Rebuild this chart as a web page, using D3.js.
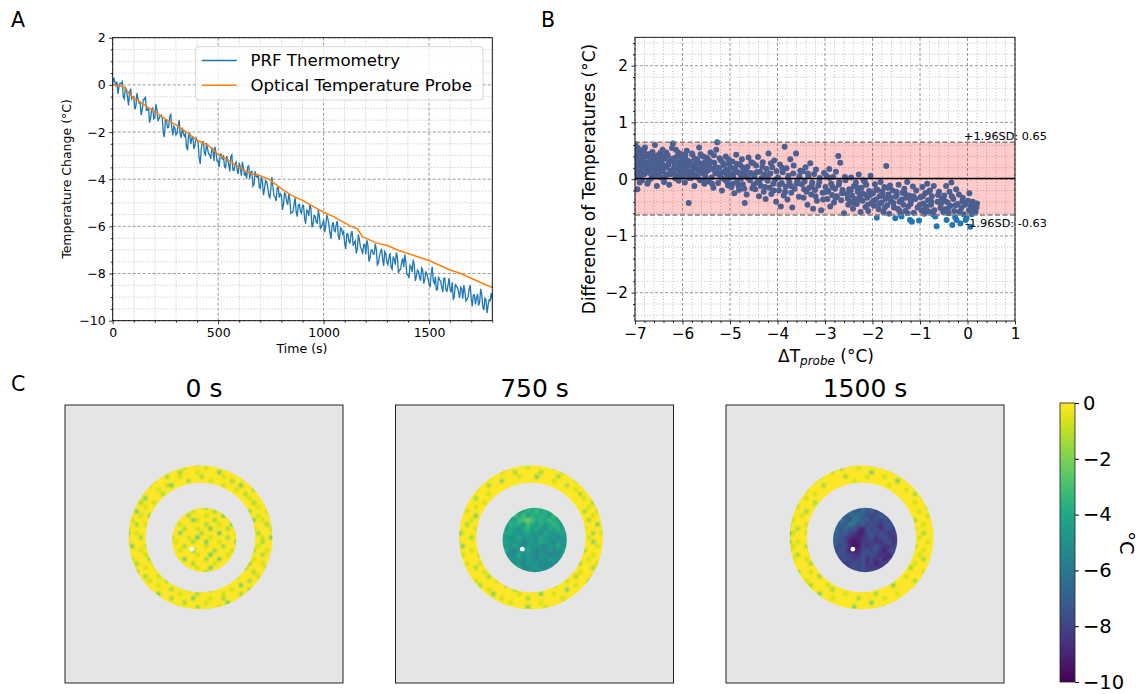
<!DOCTYPE html>
<html><head><meta charset="utf-8">
<script src="https://cdn.jsdelivr.net/npm/d3@7"></script>
<style>
body{margin:0;background:#fff;}
svg text{font-family:"DejaVu Sans",sans-serif;fill:#000;}
.gmin{stroke:#b3b3b3;stroke-width:0.7;stroke-dasharray:1.2 1.8;}
.gmaj{stroke:#808080;stroke-width:0.8;stroke-dasharray:3 2;}
</style></head><body>
<svg id="fig" width="1143" height="694"></svg>
<script>
// ---------------- DATA ----------------
// Panel A: PRF thermometry, one sample every 5 s from 0 to 1800 s
const prfInterval = 5;
const prfValues = [
 0.05,0.30,0.14,-0.02,0.13,-0.38,-0.08,0.07,0.06,0.14,-0.50,-0.59,-0.11,-0.20,-0.52,-0.87,-0.33,-0.16,-0.59,-0.50,
 -0.50,-1.04,-0.91,-0.35,-0.58,-0.76,-0.74,-1.28,-1.06,-0.62,-0.62,-0.50,-1.08,-1.07,-0.95,-1.60,-1.41,-1.02,-0.98,-1.44,
 -1.39,-0.82,-1.06,-1.54,-1.42,-1.33,-1.28,-1.39,-2.05,-2.21,-1.46,-1.49,-1.82,-1.81,-1.39,-1.22,-1.80,-2.13,-1.76,-1.84,
 -2.12,-2.05,-1.74,-1.48,-2.10,-2.24,-1.81,-2.05,-2.17,-2.08,-2.64,-2.77,-2.10,-2.06,-2.51,-2.27,-2.17,-2.72,-2.54,-2.25,
 -2.35,-2.43,-3.10,-3.35,-2.71,-2.42,-2.41,-2.91,-2.97,-2.46,-2.72,-2.93,-2.97,-3.14,-2.68,-2.70,-3.23,-2.63,-2.88,-3.24,
 -3.23,-3.48,-2.93,-2.94,-3.17,-2.98,-3.47,-3.52,-3.02,-3.15,-3.37,-3.67,-3.06,-2.97,-3.61,-3.63,-3.36,-3.27,-3.60,-3.78,
 -3.30,-3.50,-3.85,-3.26,-3.51,-3.85,-3.71,-3.98,-3.47,-3.43,-3.97,-3.69,-3.67,-4.30,-4.23,-3.66,-3.88,-3.92,-3.78,-4.35,
 -4.39,-3.88,-4.09,-4.68,-4.40,-4.06,-4.10,-4.34,-4.66,-4.82,-4.38,-3.91,-4.34,-4.71,-4.75,-4.93,-4.37,-4.34,-4.78,-4.62,
 -4.69,-5.30,-5.06,-4.56,-4.67,-4.95,-5.08,-4.61,-4.90,-5.45,-5.41,-5.37,-5.07,-4.79,-5.39,-5.59,-5.10,-5.07,-5.36,-5.45,
 -5.11,-5.12,-5.66,-5.89,-5.31,-5.35,-5.56,-5.06,-5.26,-6.04,-5.91,-5.54,-5.56,-5.82,-5.86,-5.31,-5.57,-6.08,-6.02,-5.90,
 -5.72,-6.25,-6.02,-5.52,-5.67,-5.91,-6.27,-6.53,-5.97,-5.82,-6.17,-6.22,-5.92,-5.77,-6.42,-6.57,-6.07,-6.10,-6.32,-6.22,
 -6.72,-6.96,-6.32,-6.32,-6.62,-6.73,-6.32,-6.20,-6.82,-6.70,-6.62,-7.15,-6.97,-6.34,-6.57,-6.90,-6.98,-7.18,-6.78,-6.76,
 -7.18,-6.59,-6.77,-7.49,-7.36,-7.00,-6.99,-7.17,-7.18,-6.74,-6.97,-7.64,-7.56,-7.26,-7.09,-6.95,-7.38,-7.68,-7.07,-7.16,
 -7.51,-7.62,-7.35,-7.13,-7.74,-7.82,-7.28,-7.40,-7.62,-7.10,-7.30,-7.97,-7.84,-7.83,-7.53,-7.36,-7.73,-7.19,-7.52,-8.03,
 -8.06,-8.19,-7.65,-7.71,-7.94,-7.41,-7.63,-8.31,-8.12,-7.85,-7.91,-8.17,-8.30,-7.76,-7.84,-8.43,-8.24,-7.91,-8.03,-8.22,
 -8.42,-8.58,-8.01,-7.71,-8.30,-8.42,-8.14,-8.70,-8.68,-8.13,-8.27,-8.31,-8.56,-8.79,-8.20,-8.19,-8.70,-8.75,-8.49,-8.19,
 -8.68,-8.80,-8.37,-9.11,-8.96,-8.44,-8.55,-8.59,-8.79,-9.03,-8.58,-8.64,-9.07,-8.49,-8.76,-9.17,-9.11,-8.99,-8.66,-8.49,
 -9.06,-9.39,-8.91,-8.90,-9.31,-9.05,-8.86,-9.36,-9.21,-8.65,-8.90,-9.41,-9.55,-9.05,-9.10,-9.68,-9.35,-9.11,-9.15,-8.83,
 -9.10];
// Panel A: optical temperature probe
const probeTimes  = [0,40,60,80,100,150,200,250,300,350,400,450,500,550,600,650,700,740,800,850,900,950,1000,1050,1100,1130,1160,1185,1200,1250,1300,1350,1400,1450,1500,1550,1600,1650,1700,1750,1800];
const probeValues = [0,-0.05,-0.15,-0.40,-0.55,-0.85,-1.15,-1.45,-1.70,-2.00,-2.35,-2.55,-2.95,-3.20,-3.50,-3.75,-3.85,-4.00,-4.40,-4.70,-4.90,-5.15,-5.40,-5.60,-5.85,-6.00,-6.10,-6.45,-6.50,-6.70,-6.80,-7.00,-7.15,-7.30,-7.45,-7.65,-7.85,-8.00,-8.20,-8.40,-8.60];
const seriesNames = ["PRF Thermometry","Optical Temperature Probe"];
const xTicksA = [0,500,1000,1500];
const yTicksA = [-10,-8,-6,-4,-2,0,2];

// Panel B: Bland-Altman points [ΔT_probe, difference]
const baPoints = [
 [-6.99,0.62],[-6.98,0.31],[-6.97,0.12],[-6.96,0.45],[-6.95,-0.18],[-6.94,0.22],[-6.93,0.38],[-6.92,0.05],[-6.90,0.27],[-6.89,0.51],
 [-6.88,0.16],[-6.86,0.34],[-6.85,-0.02],[-6.83,0.41],[-6.82,0.24],[-6.80,0.09],[-6.79,0.56],[-6.77,0.30],[-6.75,0.18],[-6.74,-0.08],
 [-6.72,0.44],[-6.70,0.26],[-6.69,0.11],[-6.67,0.35],[-6.65,0.02],[-6.63,0.48],[-6.62,0.20],[-6.60,0.29],[-6.58,0.60],[-6.57,0.14],
 [-6.55,0.37],[-6.54,-0.12],[-6.53,0.23],[-6.52,0.42],[-6.51,0.07],[-6.50,0.31],
 [-6.49,0.19],[-6.47,0.46],[-6.46,0.03],[-6.44,0.28],[-6.42,0.52],[-6.41,0.13],[-6.39,-0.05],[-6.37,0.36],[-6.35,0.21],[-6.33,0.08],
 [-6.31,0.42],[-6.30,0.25],[-6.28,-0.10],[-6.26,0.15],[-6.24,0.33],[-6.22,0.55],[-6.20,0.63],[-6.19,0.10],[-6.17,0.27],[-6.15,0.01],
 [-6.13,0.39],[-6.11,0.18],[-6.09,0.47],[-6.08,-0.03],[-6.06,0.22],[-6.05,0.30],[-6.03,0.12],[-6.02,0.44],[-6.01,0.05],[-6.00,0.26],
 [-5.98,0.17],[-5.96,0.38],[-5.95,-0.06],[-5.93,0.24],[-5.91,0.50],[-5.89,0.09],[-5.87,-0.42],[-5.85,0.31],[-5.83,0.14],[-5.81,0.02],
 [-5.79,0.43],[-5.77,0.20],[-5.75,-0.12],[-5.73,0.28],[-5.71,0.07],[-5.69,0.35],[-5.67,0.16],[-5.65,0.56],[-5.63,-0.02],[-5.61,0.23],
 [-5.59,0.11],[-5.57,0.40],[-5.56,0.19],[-5.54,-0.08],[-5.53,0.30],[-5.52,0.05],[-5.51,0.26],
 [-5.49,0.14],[-5.47,0.36],[-5.45,-0.04],[-5.43,0.22],[-5.41,0.47],[-5.39,0.03],[-5.37,0.18],[-5.35,-0.15],[-5.33,0.29],[-5.31,0.10],
 [-5.29,0.52],[-5.27,0.65],[-5.25,-0.07],[-5.23,0.20],[-5.21,0.06],[-5.19,0.33],[-5.17,-0.20],[-5.15,0.12],[-5.13,0.25],[-5.11,-0.01],
 [-5.09,0.40],[-5.07,0.08],[-5.05,0.17],[-5.04,-0.11],[-5.02,0.27],[-5.01,0.02],
 [-4.99,0.09],[-4.97,-0.14],[-4.95,0.31],[-4.93,0.04],[-4.91,-0.25],[-4.89,0.19],[-4.87,0.43],[-4.85,-0.05],[-4.83,0.12],[-4.81,-0.19],
 [-4.79,0.26],[-4.77,0.01],[-4.75,0.35],[-4.73,-0.09],[-4.71,0.15],[-4.69,-0.42],[-4.67,0.07],[-4.65,-0.27],[-4.63,0.22],[-4.61,0.38],
 [-4.58,-0.02],[-4.56,0.11],[-4.53,-0.16],[-4.51,0.28],
 [-4.49,0.05],[-4.47,-0.18],[-4.45,0.24],[-4.43,-0.06],[-4.41,0.39],[-4.39,-0.30],[-4.37,0.13],[-4.35,-0.12],[-4.33,0.02],[-4.31,0.30],
 [-4.29,-0.22],[-4.27,0.08],[-4.25,-0.35],[-4.23,0.18],[-4.21,-0.03],[-4.19,0.45],[-4.17,-0.15],[-4.15,0.10],[-4.13,-0.26],[-4.11,0.21],
 [-4.09,-0.08],[-4.07,0.33],[-4.05,-0.01],[-4.03,-0.40],
 [-3.99,0.03],[-3.97,-0.20],[-3.95,0.26],[-3.93,-0.48],[-3.91,-0.07],[-3.89,0.12],[-3.87,-0.29],[-3.85,0.57],[-3.83,-0.13],[-3.81,0.19],
 [-3.79,-0.36],[-3.77,0.06],[-3.75,-0.05],[-3.73,0.35],[-3.71,-0.24],[-3.69,-0.50],[-3.67,0.10],[-3.64,-0.17],[-3.61,0.45],[-3.58,-0.02],
 [-3.55,-0.31],[-3.52,0.15],
 [-3.49,-0.09],[-3.47,0.14],[-3.45,-0.33],[-3.43,-0.04],[-3.41,0.21],[-3.39,-0.22],[-3.37,-0.45],[-3.35,0.05],[-3.33,-0.15],[-3.31,0.28],
 [-3.29,-0.27],[-3.27,-0.06],[-3.25,-0.52],[-3.23,0.09],[-3.21,-0.19],[-3.19,0.17],[-3.17,-0.38],[-3.14,-0.11],[-3.11,0.02],[-3.08,-0.55],
 [-3.05,-0.24],[-3.02,0.11],
 [-2.99,-0.14],[-2.97,0.06],[-2.95,-0.35],[-2.93,-0.21],[-2.91,0.18],[-2.89,-0.48],[-2.87,-0.08],[-2.85,-0.28],[-2.83,0.04],[-2.81,-0.41],
 [-2.79,-0.17],[-2.77,0.13],[-2.75,-0.30],[-2.72,0.41],[-2.70,-0.05],[-2.68,0.29],[-2.66,-0.37],[-2.63,-0.19],[-2.60,-0.60],[-2.57,-0.02],
 [-2.54,-0.26],[-2.51,-0.45],
 [-2.49,-0.18],[-2.47,-0.40],[-2.45,0.03],[-2.43,-0.29],[-2.41,-0.52],[-2.39,-0.12],[-2.37,-0.35],[-2.35,-0.06],[-2.33,-0.44],[-2.31,-0.22],
 [-2.29,0.08],[-2.27,-0.31],[-2.25,-0.58],[-2.23,-0.15],[-2.21,-0.38],[-2.19,-0.02],[-2.17,-0.27],[-2.15,-0.49],[-2.13,-0.10],[-2.11,-0.33],
 [-2.09,-0.56],[-2.07,-0.21],[-2.04,0.06],[-2.02,-0.42],
 [-1.99,-0.25],[-1.97,-0.47],[-1.95,-0.09],[-1.93,-0.36],[-1.91,-0.68],[-1.89,-0.19],[-1.87,-0.53],[-1.85,-0.30],[-1.83,-0.05],[-1.81,-0.41],
 [-1.79,-0.22],[-1.77,-0.58],[-1.75,-0.14],[-1.73,-0.35],[-1.71,0.23],[-1.69,-0.46],[-1.67,-0.27],[-1.65,-0.61],[-1.63,-0.11],[-1.61,-0.39],
 [-1.58,-0.20],[-1.55,-0.50],[-1.52,-0.69],[-1.51,-0.31],
 [-1.49,-0.28],[-1.47,-0.52],[-1.45,-0.10],[-1.43,-0.40],[-1.41,-0.62],[-1.39,-0.66],[-1.37,-0.24],[-1.35,-0.45],[-1.33,-0.17],[-1.31,-0.56],
 [-1.29,-0.33],[-1.27,-0.05],[-1.25,-0.48],[-1.23,-0.29],[-1.21,-0.72],[-1.19,-0.38],[-1.17,-0.75],[-1.15,-0.13],[-1.13,-0.59],[-1.10,-0.35],
 [-1.05,-0.50],[-1.02,-0.73],
 [-0.99,-0.32],[-0.97,-0.55],[-0.95,-0.14],[-0.93,-0.43],[-0.91,-0.61],[-0.89,-0.25],[-0.87,-0.48],[-0.85,-0.08],[-0.83,-0.37],[-0.81,-0.57],
 [-0.79,-0.20],[-0.77,-0.45],[-0.75,-0.30],[-0.73,-0.62],[-0.71,-0.12],[-0.68,-0.66],[-0.65,-0.83],[-0.63,-0.40],[-0.60,-0.22],[-0.57,-0.51],
 [-0.54,-0.34],[-0.51,-0.58],
 [-0.49,-0.29],[-0.47,-0.53],[-0.45,-0.12],[-0.44,-0.72],[-0.42,-0.41],[-0.40,-0.60],[-0.38,-0.22],[-0.36,-0.47],[-0.34,-0.06],[-0.32,-0.81],
 [-0.30,-0.35],[-0.28,-0.56],[-0.26,-0.67],[-0.24,-0.18],[-0.23,-0.72],[-0.21,-0.44],[-0.18,-0.27],[-0.15,-0.78],[-0.13,-0.51],[-0.10,-0.33],
 [-0.08,-0.62],[-0.05,-0.45],[-0.04,-0.72],[-0.02,-0.69],
 [0.01,-0.38],[0.03,-0.55],[0.04,-0.25],[0.06,-0.84],[0.07,-0.47],[0.09,-0.62],[0.11,-0.40],[0.13,-0.53],[0.15,-0.45],[0.17,-0.58],[0.19,-0.50],[0.20,-0.43],
 [-6.99,0.18],[-6.98,0.47],[-6.97,0.28],[-6.96,0.03],[-6.95,0.36],[-6.94,0.55],[-6.93,0.14],[-6.91,0.25],[-6.90,-0.06],[-6.88,0.43],
 [-6.87,0.21],[-6.85,0.33],[-6.84,0.08],[-6.81,0.50],[-6.78,0.19],[-6.76,0.40],[-6.73,0.27],[-6.71,-0.03],[-6.68,0.15],[-6.66,0.45],
 [-6.64,0.32],[-6.61,0.06],[-6.59,0.39],[-6.56,0.24],[-6.48,0.35],[-6.45,0.15],[-6.43,0.41],[-6.40,0.24],[-6.36,0.04],[-6.34,0.47],
 [-6.29,0.31],[-6.25,0.09],[-6.21,0.36],[-6.18,0.20],[-6.14,0.52],[-6.12,0.07],[-6.10,0.30],[-6.07,0.41],[-6.04,0.16],[-6.01,0.34],
 [-5.99,0.28],[-5.97,0.07],[-5.94,0.42],[-5.92,0.18],[-5.90,0.33],[-5.86,0.02],[-5.84,0.25],[-5.80,0.45],[-5.78,0.10],[-5.74,0.36],
 [-5.72,0.19],[-5.68,0.03],[-5.66,0.29],[-5.62,0.44],[-5.60,0.13],[-5.58,0.27],[-5.55,-0.03],[-5.50,0.38],[-5.46,0.16],[-5.42,0.31],
 [-5.38,-0.08],[-5.34,0.42],[-5.30,0.21],[-5.26,0.11],[-5.22,0.37],[-5.18,0.02],[-5.14,0.28],[-5.10,0.15],[-5.06,-0.05],[-5.03,0.35],
 [-4.98,0.20],[-4.94,-0.08],[-4.90,0.12],[-4.86,0.27],[-4.82,-0.12],[-4.78,0.08],[-4.74,0.21],[-4.70,-0.17],[-4.66,0.16],[-4.62,0.02],
 [-4.55,0.30],[-4.50,-0.10],[-4.44,0.12],[-4.38,-0.05],[-4.32,0.22],[-4.26,-0.14],[-4.20,0.06],[-4.14,0.28],[-4.08,-0.20],[-4.02,0.14],
 [-3.96,-0.10],[-3.90,0.20],[-3.84,-0.22],[-3.78,0.02],[-3.72,-0.12],[-3.66,0.24],[-3.60,-0.08],[-3.54,0.05],[-3.44,-0.18],[-3.36,0.10],
 [-3.28,-0.12],[-3.20,-0.30],[-3.12,-0.05],[-3.04,-0.36],[-2.96,-0.22],[-2.90,0.02],[-2.84,-0.14],[-2.78,-0.33],[-2.71,-0.10],[-2.64,-0.25],
 [-2.58,0.04],[-2.52,-0.34],[-2.46,-0.20],[-2.40,-0.42],[-2.34,-0.14],[-2.28,-0.36],[-2.22,-0.25],[-2.16,-0.05],[-2.10,-0.45],[-2.05,-0.28],
 [-1.98,-0.38],[-1.92,-0.18],[-1.86,-0.44],[-1.80,-0.28],[-1.74,-0.50],[-1.68,-0.15],[-1.62,-0.33],[-1.56,-0.42],[-1.50,-0.22],[-1.44,-0.55],
 [-1.38,-0.36],[-1.32,-0.25],[-1.26,-0.60],[-1.20,-0.44],[-1.14,-0.30],[-1.08,-0.20],[-1.00,-0.45],[-0.94,-0.30],[-0.88,-0.52],[-0.82,-0.22],
 [-0.76,-0.40],[-0.70,-0.55],[-0.62,-0.28],[-0.56,-0.44],[-0.48,-0.38],[-0.41,-0.52],[-0.33,-0.30],[-0.25,-0.46],[-0.17,-0.58],[-0.11,-0.40]
];
const baMean = 0.01, baUpper = 0.65, baLower = -0.63;
const baLabels = ["+1.96SD: 0.65", "-1.96SD: -0.63"];
const xTicksB = [-7,-6,-5,-4,-3,-2,-1,0,1];
const yTicksB = [-2,-1,0,1,2];

// Panel C: temperature maps. Each char is a level, looked up in levelValues (°C)
const levelChars  = "0123456789abcdefghijk";
const levelValues = [0,-0.8,-1.5,-2.2,-2.6,-3.0,-3.3,-3.6,-4.0,-4.5,-5.0,-5.5,-6.0,-6.5,-7.0,-7.5,-8.0,-8.5,-9.0,-9.5,-10];
const panelTitles = ["0 s","750 s","1500 s"];
const imageSizePx = 64;
const ringOrigin = [14,13], diskOrigin = [23,22];
const ringCenter = [31.2,30.5], ringOuterR = 16.55, ringInnerR = 12.6;
const diskCenter = [32.04,31.08], diskR = 7.4;
const probeTip = [29.2,33.2];
const ringGrids = [
[
"0010002000010000300001000200000100","0200010003000100001000020000100020","0001000100002000100003000010002000","1000300002001000020000100000300010",
"0020001000000020000100002000010000","0100020001300000000000100030000200","0002000100000000000000000100020001","2001000020000000000000000002000100",
"0100300000000000000000000000100020","0002001000000000000000000000020001","1000100000000000000000000000001000","0030000200000000000000000000200010",
"2001020000000000000000000000001002","0100001000000000000000000000030100","0020100000000000000000000000000020","1000020000000000000000000000010001",
"4010000000000000000000000000002000","0002010000000000000000000000000103","1000000000000000000000000000000200","0300100000000000000000000000001000",
"0001002000000000000000000000020010","2000100000000000000000000000000200","0100020000000000000000000000010001","0020001000000000000000000000200100",
"1000100200000000000000000003000020","0030000010000000000000000100020000","0000200100000000000000000200001000","0100010002000000000000010000200010",
"0002000100003000100002000030000100","1000300000200010000300001000200000","0010000300001000200000100020000100","0200010000200003000100200000010000",
"0000200100000200001000030010000200","0010000020010000200001000200100000","0000100000000100000200000010000000"
],[
"0100020000100002000100030000100000","0002000100020000100000100020000100","1000300000100200000200001000030000","0020000200000010003000020000100020",
"0100010000300000000000100001000200","0002000200000000000000000200010000","1000100000000000000000000001000020","0030000100000000000000000000200100",
"0000200000000000000000000000010000","0100001000000000000000000000000200","2000100000000000000000000000001000","0010000000000000000000000000020010",
"0000300000000000000000000000000100","1001000000000000000000000000002000","0020000000000000000000000000000030","0000100000000000000000000000010000",
"5100000000000000000000000000000201","0002000000000000000000000000001000","1000010000000000000000000000000300","0300000000000000000000000000000010",
"0001000000000000000000000000020000","0100020000000000000000000000000100","2000000000000000000000000000001000","0010010000000000000000000000200010",
"0000200000000000000000000000000200","0100001000000000000000000000100000","0030000200000000000000000002000100","0000100001000000000000000100002000",
"1000020000030000000000200001000000","0002000100000200010000000300001000","0100000030000010000300100000200000","0000300000100000200000001000000100",
"0020000200001000000100000300010000","0000100000200000300010000001000000","0000000100000000000000200000000000"
],[
"0000100002000010000200001000000000","0010000100003000100000020000100000","0000200000100000000300000100002000","0100000300000200001000100000200010",
"0002001000000001000000000300001000","1000000020000000000000010000020000","0010200000000000000000000001000100","0000001000000000000000000000020000",
"0200100000000000000000000000000100","0000002000000000000000000000010000","1010000000000000000000000000000020","0000200000000000000000000000001000",
"6001000000000000000000000000000010","0100002000000000000000000000020000","3000100000000000000000000000000100","0020000000000000000000000000010000",
"7100100000000000000000000000000200","0000020000000000000000000000001000","5010000000000000000000000000000010","0100200000000000000000000000020000",
"4000010000000000000000000000000100","0020000000000000000000000000001000","0100100000000000000000000000000200","0000020000000000000000000000010000",
"1000000000000000000000000000200000","0030010000000000000000000000000100","0000000200000000000000000001000000","0100100000000000000000000000020000",
"0000020001000000000000003000000100","0010000000200000001000000000010000","0000100300000100000020000100000000","0002000000100000200000100000200000",
"0000010020000000000300000010000000","0000000001000003000000100000000000","0000000000010000000000000000000000"
]];
const diskGrids = [
[
"001000200010003000","020010000300100020","000300100002000100","100002000100030002","002000310002000100","030100000200100300",
"000020010030002000","100300002000400010","020001040010002000","001000200300100030","300020000100020000","000100300002000100",
"020000010040001000","001030000200300020","100000200001000100","000200010030000200","030001000200100000","000100030000002000"
],[
"786978579868797867","879687968758697978","968759878697869589","787968597878958697","9788965358786897a8","869787958979868a98",
"78989a87989a89798a","97889a98a9b89a98a9","889a98a99a89a9b9a8","9a89a9ba9a89ab9a9b","8a9a8ab9a9ab9a8a9a","a98ab9a8abab9ba9ab",
"9a9ba8a9ab9abab9a9","a9a9a9b9abab9a9ab9","9a8a9ab9a9babab9a9","a9a9a8aba9ab9a9aa9","9a99a9a9ab9a9a9a9a","a9a9a9a9a9a9a9a9a9"
],[
"efdfeefdegfefdfegf","fdecfedfbefdgefdfe","edfdcbefdfegfefgfe","fecdfeddefgfeffgef","efdcefcdfegfgfgefg","dfeefbdfegfghgfgfe",
"fedfdfehifgfhgfgfg","efdfeghiigfgfghgfh","fdefghiihgfhgfghgf","efefgijihgghhgfhgf","fefgfijjghgfghhgfg","efgfgijigfgfhigfgh",
"gfefgghhfgfghhigfg","fgfgfghgfhghgihhgf","gfgfhgfgfhgihghgfg","fgfghgfgfghghgfhgf","gfgfgfhgfgfgfgfgfg","fgfgfgfgfgfgfgfgfg"
]];
const colorbarTicks = [0,-2,-4,-6,-8,-10];

// ---------------- DRAWING ----------------
const svg = d3.select('#fig');
const defs = svg.append('defs');
const FONT = '"DejaVu Sans", sans-serif';

function minorOnly(minor, major){ return minor.filter(v => !major.some(m => Math.abs(m - v) < 1e-9)); }
function drawFrame(g, x, y, o){
  const [x0,x1] = x.range(), [y0,y1] = y.range();
  const grid = g.append('g');
  minorOnly(o.xMinor, o.xMajor).forEach(v => grid.append('line').attr('class','gmin').attr('x1',x(v)).attr('x2',x(v)).attr('y1',y0).attr('y2',y1));
  minorOnly(o.yMinor, o.yMajor).forEach(v => grid.append('line').attr('class','gmin').attr('y1',y(v)).attr('y2',y(v)).attr('x1',x0).attr('x2',x1));
  o.xMajor.forEach(v => grid.append('line').attr('class','gmaj').attr('x1',x(v)).attr('x2',x(v)).attr('y1',y0).attr('y2',y1));
  o.yMajor.forEach(v => grid.append('line').attr('class','gmaj').attr('y1',y(v)).attr('y2',y(v)).attr('x1',x0).attr('x2',x1));
}
function drawAxes(g, x, y, o){
  const [x0,x1] = x.range(), [y0,y1] = y.range();
  const style = sel => { sel.select('.domain').remove(); sel.selectAll('text').attr('font-family',FONT).attr('font-size',o.fs).attr('fill','#000'); sel.selectAll('line').attr('stroke','#000').attr('stroke-width',0.8); };
  g.append('g').attr('transform',`translate(0,${y0})`).call(d3.axisBottom(x).tickValues(minorOnly(o.xMinor,o.xMajor)).tickSize(2).tickFormat('')).call(style);
  g.append('g').attr('transform',`translate(${x0},0)`).call(d3.axisLeft(y).tickValues(minorOnly(o.yMinor,o.yMajor)).tickSize(2).tickFormat('')).call(style);
  g.append('g').attr('transform',`translate(0,${y0})`).call(d3.axisBottom(x).tickValues(o.xMajor).tickSize(3.5).tickPadding(3.5).tickFormat(d3.format('d'))).call(style);
  g.append('g').attr('transform',`translate(${x0},0)`).call(d3.axisLeft(y).tickValues(o.yMajor).tickSize(3.5).tickPadding(3.5).tickFormat(d3.format('d'))).call(style);
  g.append('rect').attr('x',x0).attr('y',y1).attr('width',x1-x0).attr('height',y0-y1).attr('fill','none').attr('stroke','#000').attr('stroke-width',0.9);
}
const rng = (a,b,s) => { const out=[]; const n=Math.round((b-a)/s); for(let i=0;i<=n;i++) out.push(+(a+i*s).toFixed(6)); return out; };

// ---------- Panel A ----------
{
  const g = svg.append('g');
  const x = d3.scaleLinear().domain([0,1800]).range([112.7,492.3]);
  const y = d3.scaleLinear().domain([-10,2]).range([320.7,37.7]);
  const o = {xMajor:xTicksA, xMinor:rng(0,1800,100), yMajor:yTicksA, yMinor:rng(-10,2,0.5), fs:12.5};
  drawFrame(g,x,y,o);
  defs.append('clipPath').attr('id','clipA').append('rect').attr('x',112.7).attr('y',37.7).attr('width',379.6).attr('height',283);
  const pg = g.append('g').attr('clip-path','url(#clipA)');
  const prf = prfValues.map((v,i)=>[i*prfInterval, v]);
  pg.append('path').attr('d', d3.line().x(d=>x(d[0])).y(d=>y(d[1]))(prf)).attr('fill','none').attr('stroke','#1f77b4').attr('stroke-width',1.3).attr('stroke-linejoin','miter');
  const probe = probeTimes.map((t,i)=>[t, probeValues[i]]);
  pg.append('path').attr('d', d3.line().x(d=>x(d[0])).y(d=>y(d[1]))(probe)).attr('fill','none').attr('stroke','#ff7f0e').attr('stroke-width',1.5);
  drawAxes(g,x,y,o);
  g.append('text').attr('x',302).attr('y',353).attr('text-anchor','middle').attr('font-size',12.5).text('Time (s)');
  g.append('text').attr('transform','translate(71,179) rotate(-90)').attr('text-anchor','middle').attr('font-size',12.5).text('Temperature Change (°C)');
  const lg = g.append('g');
  lg.append('rect').attr('x',195.7).attr('y',46.7).attr('width',287.3).attr('height',53.3).attr('rx',3).attr('fill','#fff').attr('fill-opacity',0.8).attr('stroke','#cccccc').attr('stroke-width',0.8);
  const cols = ['#1f77b4','#ff7f0e'];
  seriesNames.forEach((n,i)=>{
    const yy = 60.5 + i*24.8;
    lg.append('line').attr('x1',201.7).attr('x2',236.7).attr('y1',yy).attr('y2',yy).attr('stroke',cols[i]).attr('stroke-width',1.5);
    lg.append('text').attr('x',250.5).attr('y',yy).attr('dy','0.35em').attr('font-size',16.6).text(n);
  });
  svg.append('text').attr('x',11).attr('y',27).attr('font-size',20.5).text('A');
}

// ---------- Panel B ----------
{
  const g = svg.append('g');
  const x = d3.scaleLinear().domain([-7,1]).range([635,1015]);
  const y = d3.scaleLinear().domain([-2.5,2.5]).range([321,37.3]);
  const o = {xMajor:xTicksB, xMinor:rng(-7,1,0.2), yMajor:yTicksB, yMinor:rng(-2.4,2.4,0.2), fs:15.2};
  drawFrame(g,x,y,o);
  defs.append('clipPath').attr('id','clipB').append('rect').attr('x',635).attr('y',37.3).attr('width',380).attr('height',283.7);
  const pg = g.append('g').attr('clip-path','url(#clipB)');
  pg.selectAll('circle').data(baPoints).join('circle').attr('cx',d=>x(d[0])).attr('cy',d=>y(d[1])).attr('r',3).attr('fill','#1f77b4');
  pg.append('rect').attr('x',x(-7)).attr('width',x(1)-x(-7)).attr('y',y(baUpper)).attr('height',y(baLower)-y(baUpper)).attr('fill','#ff0000').attr('fill-opacity',0.2);
  [baUpper, baLower].forEach(v => pg.append('line').attr('x1',x(-7)).attr('x2',x(1)).attr('y1',y(v)).attr('y2',y(v)).attr('stroke','#808080').attr('stroke-width',1.5).attr('stroke-dasharray','5,2.5'));
  pg.append('line').attr('x1',x(-7)).attr('x2',x(1)).attr('y1',y(baMean)).attr('y2',y(baMean)).attr('stroke','#000').attr('stroke-width',1.5);
  drawAxes(g,x,y,o);
  g.append('text').attr('x',x(1)+32).attr('y',y(baUpper)-2.5).attr('text-anchor','end').attr('font-size',11.3).text(baLabels[0]);
  g.append('text').attr('x',x(1)+32).attr('y',y(baLower)+12.5).attr('text-anchor','end').attr('font-size',11.3).text(baLabels[1]);
  const xl = g.append('text').attr('x',826).attr('y',362).attr('text-anchor','middle').attr('font-size',17);
  xl.append('tspan').text('ΔT');
  xl.append('tspan').attr('font-size',12).attr('font-style','italic').attr('dy',3).text('probe');
  xl.append('tspan').attr('dy',-3).text(' (°C)');
  g.append('text').attr('transform','translate(594.5,179) rotate(-90)').attr('text-anchor','middle').attr('font-size',17).text('Difference of Temperatures (°C)');
  svg.append('text').attr('x',541).attr('y',27).attr('font-size',20.5).text('B');
}

// ---------- Panel C ----------
{
  const color = d3.scaleSequential(d3.interpolateViridis).domain([-10,0]);
  const lvl = ch => levelValues[Math.max(0, levelChars.indexOf(ch))];
  const f = defs.append('filter').attr('id','soft').attr('x','-5%').attr('y','-5%').attr('width','110%').attr('height','110%');
  f.append('feGaussianBlur').attr('stdDeviation',1.3);
  const boxSize = 278, boxTop = 405, firstLeft = 65, pitch = 330.5;
  panelTitles.forEach((title, p) => {
    const left = firstLeft + p*pitch;
    const sx = d3.scaleLinear().domain([0,imageSizePx]).range([left,left+boxSize]);
    const sy = d3.scaleLinear().domain([0,imageSizePx]).range([boxTop,boxTop+boxSize]);
    const g = svg.append('g');
    g.append('rect').attr('x',sx(0)).attr('y',sy(0)).attr('width',boxSize).attr('height',boxSize).attr('fill','#e5e5e5');
    const k = sx(1)-sx(0);
    const ringPath = d3.path();
    ringPath.arc(sx(ringCenter[0]), sy(ringCenter[1]), k*ringOuterR, 0, 2*Math.PI);
    ringPath.moveTo(sx(ringCenter[0])+k*ringInnerR, sy(ringCenter[1]));
    ringPath.arc(sx(ringCenter[0]), sy(ringCenter[1]), k*ringInnerR, 0, 2*Math.PI);
    defs.append('clipPath').attr('id','ringclip'+p).append('path').attr('d',ringPath.toString()).attr('clip-rule','evenodd');
    defs.append('clipPath').attr('id','diskclip'+p).append('circle').attr('cx',sx(diskCenter[0])).attr('cy',sy(diskCenter[1])).attr('r',k*diskR);
    const drawGrid = (rows, origin, clipId) => {
      const cells = [];
      const nr = rows.length, nc = rows[0].length;
      for (let r=-2; r<nr+2; r++) for (let c=-2; c<nc+2; c++) {
        const rr = Math.min(nr-1, Math.max(0,r)), cc = Math.min(nc-1, Math.max(0,c));
        cells.push({x: origin[0]+c, y: origin[1]+r, v: lvl(rows[rr][cc] || '0')});
      }
      g.append('g').attr('clip-path',`url(#${clipId})`).append('g').attr('filter','url(#soft)')
        .selectAll('rect').data(cells).join('rect')
        .attr('x',d=>sx(d.x)).attr('y',d=>sy(d.y)).attr('width',k+0.6).attr('height',k+0.6)
        .attr('fill',d=>color(d.v));
    };
    drawGrid(ringGrids[p], ringOrigin, 'ringclip'+p);
    drawGrid(diskGrids[p], diskOrigin, 'diskclip'+p);
    g.append('circle').attr('cx',sx(probeTip[0])).attr('cy',sy(probeTip[1])).attr('r',2.4).attr('fill','#fff');
    g.append('rect').attr('x',sx(0)).attr('y',sy(0)).attr('width',boxSize).attr('height',boxSize).attr('fill','none').attr('stroke','#222').attr('stroke-width',1);
    g.append('text').attr('x',sx(imageSizePx/2)).attr('y',396.5).attr('text-anchor','middle').attr('font-size',25).text(title);
  });
  const grad = defs.append('linearGradient').attr('id','viridisGrad').attr('x1',0).attr('y1',0).attr('x2',0).attr('y2',1);
  d3.range(0,1.0001,0.05).forEach(t => grad.append('stop').attr('offset',t).attr('stop-color',d3.interpolateViridis(1-t)));
  const cy = d3.scaleLinear().domain([-10,0]).range([682,403]);
  svg.append('rect').attr('x',1060).attr('y',cy(0)).attr('width',15).attr('height',cy(-10)-cy(0)).attr('fill','url(#viridisGrad)').attr('stroke','#222').attr('stroke-width',0.8);
  const ax = svg.append('g').attr('transform','translate(1075,0)').call(d3.axisRight(cy).tickValues(colorbarTicks).tickSize(4).tickPadding(4).tickSizeOuter(0).tickFormat(d3.format('d')));
  ax.select('.domain').remove();
  ax.selectAll('text').attr('font-family',FONT).attr('font-size',19.5).attr('fill','#000');
  ax.selectAll('line').attr('stroke','#000');
  svg.append('text').attr('transform','translate(1120,543) rotate(90)').attr('text-anchor','middle').attr('font-size',19.5).text('°C');
  svg.append('text').attr('x',11).attr('y',391).attr('font-size',20.5).text('C');
}
</script>
</body></html>
